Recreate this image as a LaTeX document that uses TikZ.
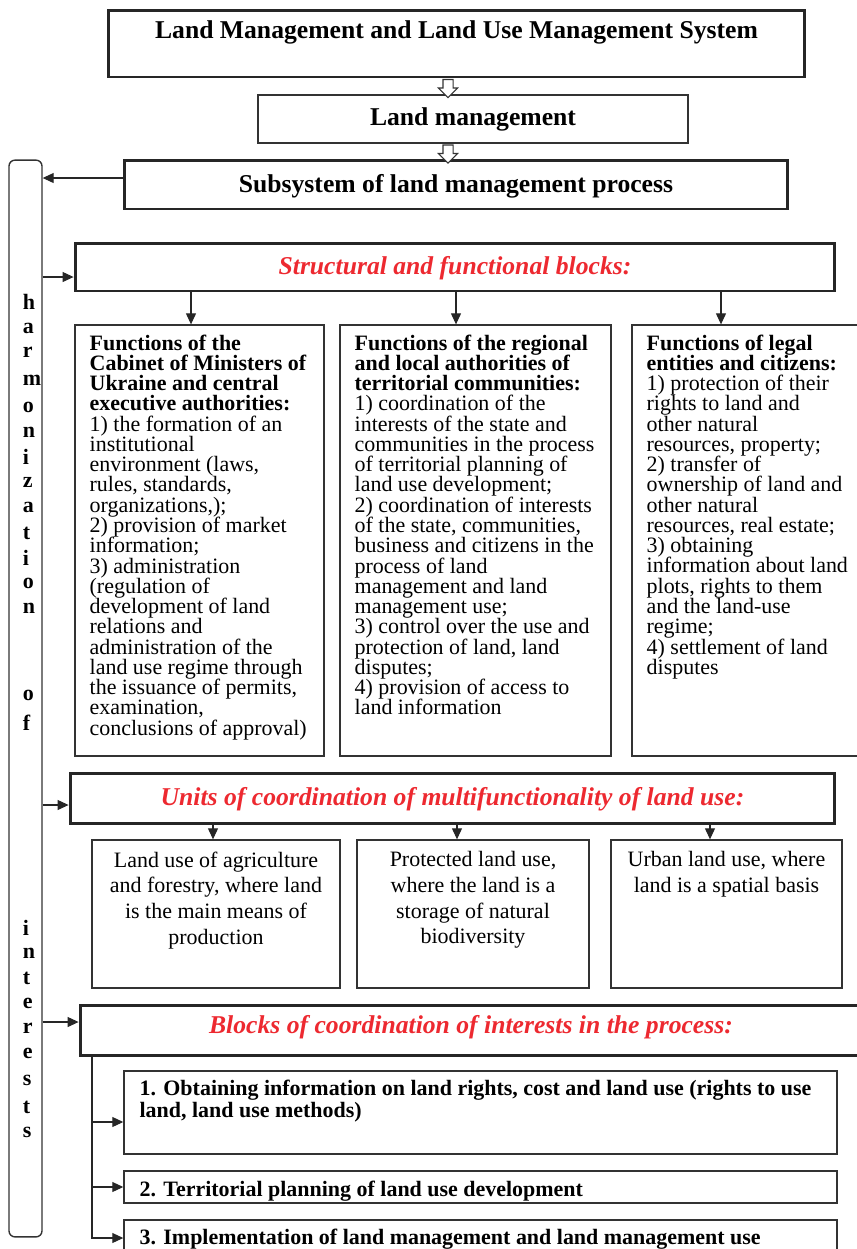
\documentclass[tikz,border=0pt]{standalone}
\usepackage{fontspec}
\setmainfont{Liberation Serif}
\usetikzlibrary{positioning,arrows.meta,shapes.arrows}
\definecolor{blockred}{RGB}{237,41,48}
\newcommand{\bodyfont}{\fontsize{12.5}{11.53}\selectfont\lineskiplimit=-10pt\relax}

\begin{document}
\begin{tikzpicture}[x=0.02cm,y=-0.02cm]

\tikzstyle{bigbox} = [rectangle, draw=black!85, line width=1.7pt, inner sep=0pt]
\tikzstyle{thinbox} = [rectangle, draw=black!80, line width=0.8pt, inner sep=0pt]
\tikzstyle{headtxt} = [font=\fontsize{14.6}{17}\selectfont\bfseries]
\tikzstyle{redtxt} = [font=\fontsize{14.6}{17}\selectfont\bfseries\itshape, text=blockred]
\tikzstyle{bodytxt} = [inner sep=0pt, align=left, font=\bodyfont]
\tikzstyle{unittxt} = [inner sep=0pt, align=center, font=\fontsize{12.5}{14.6}\selectfont]
\tikzstyle{steptxt} = [inner sep=0pt, align=left, font=\fontsize{12.5}{12.5}\selectfont\bfseries]
\tikzstyle{hollow} = [single arrow, draw=black!80, line width=0.6pt, fill=white, shape border rotate=270, inner sep=0.09cm, single arrow head extend=0.09cm, minimum height=0.36cm]
\tikzstyle{conn} = [draw=black!85, line width=0.6pt]
\tikzstyle{arr} = [conn, -{Triangle[length=0.22cm,width=0.2cm]}]
\tikzstyle{letter} = [inner sep=0pt, anchor=west, font=\fontsize{12.5}{12.5}\selectfont\bfseries]

\useasboundingbox (0,0) rectangle (857,1249);

% upper chain
\node [bigbox, minimum width=13.94cm, minimum height=1.34cm] (top) at (456.5,43.5) {};
\node [headtxt, inner sep=0pt, below=0.24cm of top.north] (topt) {Land Management and Land Use Management System};
\node [thinbox, headtxt, line width=1pt, minimum width=8.6cm, minimum height=0.96cm] (lm) at (473,119) {Land management};
\node [bigbox, headtxt, text height=0.42cm, minimum width=13.28cm, minimum height=0.98cm] (sub) at (456,184.5) {Subsystem of land management process};
\node [hollow] (ar1) at (448,86) {};
\node [hollow] (ar2) at (448,151.5) {};

% harmonization strip
\node [rectangle, draw=black!80, line width=0.8pt, rounded corners=0.12cm, minimum width=0.66cm, minimum height=21.54cm] (hz) at (25.5,698.5) {};
\foreach \l/\y [count=\i] in {h/302,a/328,r/352,m/380,o/407,n/432,i/457,z/482,a/507,t/533,i/558,o/583,n/608,o/695,f/723,i/928,n/953,t/978,e/1003,r/1028,e/1053,s/1080,t/1107,s/1132}
    \node [letter] (ch\i) at (22.5,\y) {\l};

% structural and functional blocks
\node [bigbox, redtxt, text height=0.4cm, minimum width=15.2cm, minimum height=0.96cm] (st) at (455,267) {Structural and functional blocks:};
\node [thinbox, minimum width=4.98cm, minimum height=8.62cm] (fa) at (199.5,540.5) {};
\node [thinbox, minimum width=5.42cm, minimum height=8.62cm] (fb) at (475.5,540.5) {};
\node [thinbox, minimum width=4.6cm, minimum height=8.62cm] (fc) at (747,540.5) {};

\node [bodytxt, below right=0.2cm and 0.3cm of fa.north west] (fat) {\textbf{Functions of the}\\\textbf{Cabinet of Ministers of}\\\textbf{Ukraine and central}\\\textbf{executive authorities:}\\1) the formation of an\\institutional\\environment (laws,\\rules, standards,\\organizations,);\\2) provision of market\\information;\\3) administration\\(regulation of\\development of land\\relations and\\administration of the\\land use regime through\\the issuance of permits,\\examination,\\conclusions of approval)};
\node [bodytxt, below right=0.2cm and 0.3cm of fb.north west] (fbt) {\textbf{Functions of the regional}\\\textbf{and local authorities of}\\\textbf{territorial communities:}\\1) coordination of the\\interests of the state and\\communities in the process\\of territorial planning of\\land use development;\\2) coordination of interests\\of the state, communities,\\business and citizens in the\\process of land\\management and land\\management use;\\3) control over the use and\\protection of land, land\\disputes;\\4) provision of access to\\land information};
\node [bodytxt, below right=0.2cm and 0.3cm of fc.north west] (fct) {\textbf{Functions of legal}\\\textbf{entities and citizens:}\\1) protection of their\\rights to land and\\other natural\\resources, property;\\2) transfer of\\ownership of land and\\other natural\\resources, real estate;\\3) obtaining\\information about land\\plots, rights to them\\and the land-use\\regime;\\4) settlement of land\\disputes};

% units of coordination
\node [bigbox, redtxt, text height=0.4cm, minimum width=15.3cm, minimum height=1cm] (un) at (452.5,798) {Units of coordination of multifunctionality of land use:};
\node [thinbox, minimum width=4.96cm, minimum height=2.96cm] (u1) at (216,914) {};
\node [thinbox, minimum width=4.64cm, minimum height=2.96cm] (u2) at (473,914) {};
\node [thinbox, minimum width=4.62cm, minimum height=2.96cm] (u3) at (726.5,914) {};
\node [unittxt, below=0.24cm of u1.north] (u1t) {Land use of agriculture\\and forestry, where land\\is the main means of\\production};
\node [unittxt, below=0.24cm of u2.north] (u2t) {Protected land use,\\where the land is a\\storage of natural\\biodiversity};
\node [unittxt, below=0.24cm of u3.north] (u3t) {Urban land use, where\\land is a spatial basis};

% blocks of coordination
\node [bigbox, redtxt, text depth=0.22cm, minimum width=15.64cm, minimum height=1cm] (bl) at (471,1030) {Blocks of coordination of interests in the process:};
\node [thinbox, line width=0.9pt, minimum width=14.26cm, minimum height=1.66cm] (b1) at (480.5,1112.5) {};
\node [thinbox, line width=0.9pt, minimum width=14.26cm, minimum height=0.64cm] (b2) at (480.5,1187) {};
\node [thinbox, line width=0.9pt, minimum width=14.26cm, minimum height=0.72cm] (b3) at (480.5,1238) {};
\node [steptxt, below right=0.18cm and 0.32cm of b1.north west] (b1t) {1. Obtaining information on land rights, cost and land use (rights to use\\land, land use methods)};
\node [steptxt, below right=0.2cm and 0.32cm of b2.north west] (b2t) {2. Territorial planning of land use development};
\node [steptxt, below right=0.18cm and 0.32cm of b3.north west] (b3t) {3. Implementation of land management and land management use};
\coordinate (trunk) at (92,1055);

% connectors
\draw [arr] ([yshift=0.13cm]sub.west) -- ([yshift=0.13cm]sub.west -| hz.east);
\draw [arr] ([yshift=-0.2cm]st.west -| hz.east) -- ([yshift=-0.2cm]st.west);
\draw [arr] ([yshift=-0.14cm]un.west -| hz.east) -- ([yshift=-0.14cm]un.west);
\draw [arr] ([yshift=0.16cm]bl.west -| hz.east) -- ([yshift=0.16cm]bl.west);

\draw [arr] (st.south -| 191,0) -- (fa.north -| 191,0);
\draw [arr] (st.south -| 456,0) -- (fb.north -| 456,0);
\draw [arr] (st.south -| 721,0) -- (fc.north -| 721,0);

\draw [arr] (un.south -| 213,0) -- (u1.north -| 213,0);
\draw [arr] (un.south -| 457,0) -- (u2.north -| 457,0);
\draw [arr] (un.south -| 710,0) -- (u3.north -| 710,0);

\draw [arr] (trunk) |- (b3.west);
\draw [arr] (trunk |- b2.west) -- (b2.west);
\draw [arr] ([yshift=-0.19cm]b1.west -| trunk) -- ([yshift=-0.19cm]b1.west);

\end{tikzpicture}
\end{document}
